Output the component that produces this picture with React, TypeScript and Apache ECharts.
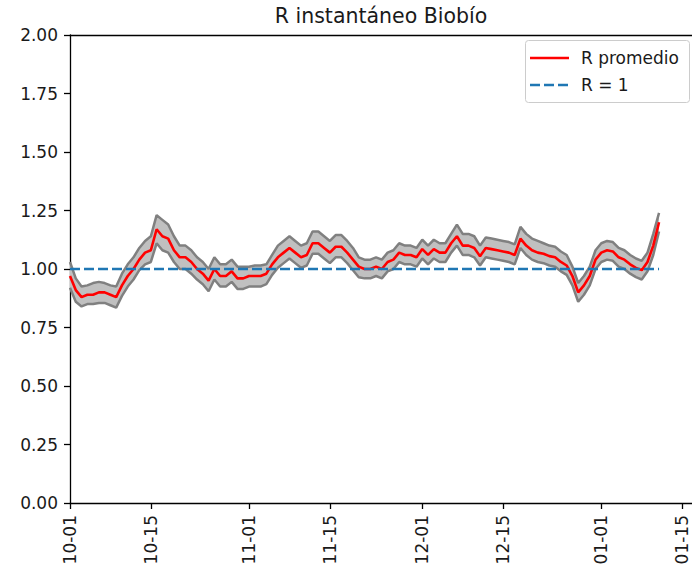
import React, { useEffect, useRef } from "react";
import * as echarts from "echarts";

// Day offsets from 2020-10-01 (index 0 = 10-01)
const startDate = "2020-10-01";

const rMean = [
  0.97, 0.91, 0.88, 0.89, 0.89, 0.90, 0.90, 0.89, 0.88, 0.93,
  0.97, 1.00, 1.04, 1.07, 1.08, 1.17, 1.14, 1.13, 1.08, 1.05,
  1.05, 1.03, 1.00, 0.98, 0.95, 1.00, 0.97, 0.97, 0.99, 0.96,
  0.96, 0.97, 0.97, 0.97, 0.98, 1.02, 1.05, 1.07, 1.09, 1.07,
  1.05, 1.06, 1.11, 1.11, 1.09, 1.07, 1.095, 1.095, 1.07, 1.04,
  1.01, 1.00, 1.00, 1.01, 1.00, 1.03, 1.04, 1.07, 1.06, 1.06,
  1.05, 1.085, 1.06, 1.085, 1.07, 1.07, 1.11, 1.14, 1.10, 1.10,
  1.09, 1.055, 1.09, 1.085, 1.08, 1.075, 1.07, 1.06, 1.13, 1.10,
  1.08, 1.07, 1.065, 1.055, 1.05, 1.03, 1.015, 0.97, 0.90, 0.93,
  0.97, 1.04, 1.07, 1.08, 1.075, 1.05, 1.04, 1.02, 1.005, 0.995,
  1.03, 1.10, 1.20,
];

const rUpper = [
  1.03, 0.96, 0.925, 0.93, 0.94, 0.945, 0.94, 0.93, 0.925, 0.98,
  1.02, 1.05, 1.09, 1.12, 1.14, 1.23, 1.21, 1.19, 1.14, 1.10,
  1.10, 1.08, 1.05, 1.03, 1.00, 1.05, 1.02, 1.02, 1.04, 1.01,
  1.01, 1.01, 1.015, 1.015, 1.02, 1.06, 1.10, 1.12, 1.14, 1.12,
  1.10, 1.11, 1.16, 1.16, 1.14, 1.12, 1.145, 1.145, 1.12, 1.09,
  1.05, 1.04, 1.04, 1.05, 1.04, 1.07, 1.08, 1.11, 1.10, 1.10,
  1.09, 1.125, 1.10, 1.125, 1.11, 1.11, 1.15, 1.19, 1.15, 1.15,
  1.14, 1.10, 1.135, 1.13, 1.125, 1.12, 1.115, 1.105, 1.18, 1.15,
  1.13, 1.12, 1.11, 1.10, 1.095, 1.075, 1.06, 1.01, 0.94, 0.97,
  1.01, 1.08, 1.11, 1.12, 1.115, 1.09, 1.08, 1.06, 1.045, 1.035,
  1.07, 1.15, 1.24,
];

const rLower = [
  0.92, 0.86, 0.84, 0.85, 0.85, 0.855, 0.855, 0.845, 0.835, 0.885,
  0.925, 0.955, 0.995, 1.02, 1.03, 1.11, 1.08, 1.07, 1.03, 1.00,
  1.00, 0.98, 0.955, 0.935, 0.905, 0.955, 0.925, 0.925, 0.945, 0.915,
  0.915, 0.925, 0.925, 0.925, 0.935, 0.975, 1.005, 1.025, 1.045, 1.025,
  1.005, 1.015, 1.065, 1.065, 1.045, 1.025, 1.05, 1.05, 1.025, 0.995,
  0.965, 0.96, 0.96, 0.97, 0.96, 0.99, 1.00, 1.03, 1.02, 1.02,
  1.01, 1.045, 1.02, 1.045, 1.03, 1.03, 1.07, 1.10, 1.06, 1.06,
  1.05, 1.015, 1.05, 1.045, 1.04, 1.035, 1.03, 1.02, 1.09, 1.06,
  1.04, 1.03, 1.025, 1.015, 1.01, 0.99, 0.975, 0.93, 0.86, 0.89,
  0.93, 1.00, 1.03, 1.04, 1.035, 1.01, 1.00, 0.98, 0.965, 0.955,
  0.99, 1.06, 1.16,
];

const tickDays = [0, 14, 31, 45, 61, 75, 92, 106];
const tickLabels = ["10-01", "10-15", "11-01", "11-15", "12-01", "12-15", "01-01", "01-15"];
const refValue = 1;

const FONT = '"DejaVu Sans", "Liberation Sans", sans-serif';
const TEXT = "#1a1a1a";
const X_MAX = 111.17;

export default function App() {
  const ref = useRef<HTMLDivElement>(null);
  useEffect(() => {
    if (!ref.current) return;
    const chart = echarts.init(ref.current, null, { renderer: "svg" });
    const n = rMean.length;
    const meanData = rMean.map((v, i) => [i, v]);
    const upData = rUpper.map((v, i) => [i, v]);
    const loData = rLower.map((v, i) => [i, v]);
    const refData = [[0, refValue], [n - 1, refValue]];

    const option: any = {
      animation: false,
      grid: {
        left: 70,
        right: -20,
        top: 35,
        bottom: 69,
        show: false,
        containLabel: false,
        outerBoundsMode: "none",
      },
      xAxis: [
        {
          type: "value",
          min: 0,
          max: X_MAX,
          position: "bottom",
          splitLine: { show: false },
          axisLine: { show: true, onZero: false, lineStyle: { color: "#000", width: 1.3 } },
          axisTick: {
            show: true,
            length: 6,
            customValues: tickDays,
            lineStyle: { color: "#000", width: 1.3 },
          },
          axisLabel: {
            show: true,
            customValues: tickDays,
            rotate: 90,
            margin: 12,
            fontFamily: FONT,
            fontSize: 17,
            color: TEXT,
            formatter: (v: number) => {
              const k = tickDays.indexOf(Math.round(v));
              return k >= 0 ? tickLabels[k] : "";
            },
          },
        },
        {
          type: "value",
          min: 0,
          max: X_MAX,
          position: "top",
          splitLine: { show: false },
          axisLine: { show: true, onZero: false, lineStyle: { color: "#000", width: 1.3 } },
          axisTick: { show: false },
          axisLabel: { show: false },
        },
      ],
      yAxis: {
        type: "value",
        min: 0,
        max: 2,
        interval: 0.25,
        splitLine: { show: false },
        axisLine: { show: true, onZero: false, lineStyle: { color: "#000", width: 1.3 } },
        axisTick: { show: true, length: 6, lineStyle: { color: "#000", width: 1.3 } },
        axisLabel: {
          margin: 12,
          fontFamily: FONT,
          fontSize: 17,
          color: TEXT,
          formatter: (v: number) => v.toFixed(2),
        },
      },
      graphic: [
        {
          type: "text",
          x: 381,
          y: 5,
          style: {
            text: "R instantáneo Biobío",
            font: `20.5px ${FONT}`,
            fill: TEXT,
            align: "center",
            verticalAlign: "top",
            textAlign: "center",
            textVerticalAlign: "top",
          },
        },
        {
          type: "rect",
          shape: { x: 525.5, y: 40.5, width: 164, height: 62, r: 3 },
          style: { fill: "rgba(255,255,255,0.8)", stroke: "#cccccc", lineWidth: 1 },
          z: 100,
        },
        {
          type: "line",
          shape: { x1: 530, y1: 58, x2: 569, y2: 58 },
          style: { stroke: "red", lineWidth: 2.6 },
          z: 101,
        },
        {
          type: "text",
          x: 581,
          y: 58,
          style: {
            text: "R promedio",
            font: `17px ${FONT}`,
            fill: TEXT,
            align: "left",
            verticalAlign: "middle",
            textAlign: "left",
            textVerticalAlign: "middle",
          },
          z: 101,
        },
        {
          type: "line",
          shape: { x1: 530, y1: 85, x2: 569, y2: 85 },
          style: { stroke: "#1f77b4", lineWidth: 2.6, lineDash: [10, 4] },
          z: 101,
        },
        {
          type: "text",
          x: 581,
          y: 85,
          style: {
            text: "R = 1",
            font: `17px ${FONT}`,
            fill: TEXT,
            align: "left",
            verticalAlign: "middle",
            textAlign: "left",
            textVerticalAlign: "middle",
          },
          z: 101,
        },
      ],
      series: [
        {
          type: "custom",
          name: "band",
          coordinateSystem: "cartesian2d",
          xAxisIndex: 0,
          data: [[0, rMean[0]]],
          encode: { x: 0, y: 1 },
          z: 1,
          renderItem: (params: any, api: any) => {
            const pts: number[][] = [];
            for (let i = 0; i < rUpper.length; i++) pts.push(api.coord([i, rUpper[i]]));
            for (let i = rLower.length - 1; i >= 0; i--) pts.push(api.coord([i, rLower[i]]));
            return {
              type: "polygon",
              shape: { points: pts },
              style: { fill: "#c0c0c0", stroke: "none" },
            };
          },
        },
        {
          type: "line",
          name: "upper",
          xAxisIndex: 0,
          data: upData,
          showSymbol: false,
          symbol: "none",
          lineStyle: { color: "#808080", width: 2.5 },
          z: 2,
        },
        {
          type: "line",
          name: "lower",
          xAxisIndex: 0,
          data: loData,
          showSymbol: false,
          symbol: "none",
          lineStyle: { color: "#808080", width: 2.5 },
          z: 2,
        },
        {
          type: "line",
          name: "R promedio",
          xAxisIndex: 0,
          data: meanData,
          showSymbol: false,
          symbol: "none",
          lineStyle: { color: "red", width: 2.6 },
          z: 3,
        },
        {
          type: "line",
          name: "R = 1",
          xAxisIndex: 0,
          data: refData,
          showSymbol: false,
          symbol: "none",
          lineStyle: { color: "#1f77b4", width: 2.6, type: [10, 4] },
          z: 4,
        },
      ],
    };
    chart.setOption(option);
    return () => chart.dispose();
  }, []);

  return (
    <div
      ref={ref}
      style={{ position: "fixed", left: 0, top: 0, width: 692, height: 572, background: "#fff" }}
    />
  );
}
